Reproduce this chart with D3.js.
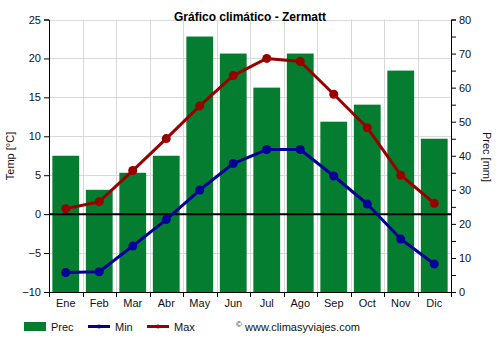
<!DOCTYPE html>
<html>
<head>
<meta charset="utf-8">
<script src="https://cdn.jsdelivr.net/npm/d3@7"></script>
<style>
  html, body { margin: 0; padding: 0; background: #fff; }
  svg { display: block; font-family: "Liberation Sans", Arial, sans-serif; }
</style>
</head>
<body>
<svg id="chart" width="500" height="350"></svg>
<script>
// Monthly climate data for Zermatt
const months = ["Ene", "Feb", "Mar", "Abr", "May", "Jun", "Jul", "Ago", "Sep", "Oct", "Nov", "Dic"];
const precip = [40, 30, 35, 40, 75, 70, 60, 70, 50, 55, 65, 45];
const tempMin = [-7.5, -7.4, -4.1, -0.7, 3.1, 6.5, 8.3, 8.3, 4.9, 1.3, -3.2, -6.4];
const tempMax = [0.7, 1.6, 5.6, 9.7, 13.9, 17.8, 20.0, 19.6, 15.4, 11.1, 5.0, 1.4];
const tempTicks = [-10, -5, 0, 5, 10, 15, 20, 25];
const precTicks = [0, 10, 20, 30, 40, 50, 60, 70, 80];
const precMinorTicks = [5, 15, 25, 35, 45, 55, 65, 75];

const colPrec = "#057d31", colMin = "#000099", colMax = "#990000";
const svg = d3.select("#chart");
const m = { left: 49, right: 451, top: 19.5, bottom: 292 };

const x = d3.scaleBand().domain(months).range([m.left, m.right]).paddingInner(0.2).paddingOuter(0.1);
const xCenter = d => x(d) + x.bandwidth() / 2;
const yT = d3.scaleLinear().domain([-10, 25]).range([m.bottom, m.top]);
const yP = d3.scaleLinear().domain([0, 80]).range([m.bottom, m.top]);
const step = (m.right - m.left) / months.length;

// grid
const grid = svg.append("g");
grid.selectAll("line.h").data(tempTicks).join("line")
  .attr("x1", m.left).attr("x2", m.right)
  .attr("y1", d => Math.round(yT(d)) + 0.5).attr("y2", d => Math.round(yT(d)) + 0.5)
  .attr("stroke", "#d9d9d9").attr("stroke-width", 1);
grid.selectAll("line.v").data(d3.range(1, months.length)).join("line")
  .attr("x1", i => Math.round(m.left + i * step) + 0.5).attr("x2", i => Math.round(m.left + i * step) + 0.5)
  .attr("y1", m.top).attr("y2", m.bottom)
  .attr("stroke", "#d9d9d9").attr("stroke-width", 1);

// precipitation bars
svg.append("g").selectAll("rect").data(months).join("rect")
  .attr("x", (d) => x(d)).attr("width", x.bandwidth())
  .attr("y", (d, i) => yP(precip[i])).attr("height", (d, i) => m.bottom - yP(precip[i]))
  .attr("fill", colPrec);

// zero line
svg.append("line").attr("x1", m.left).attr("x2", m.right)
  .attr("y1", yT(0)).attr("y2", yT(0)).attr("stroke", "#000").attr("stroke-width", 2);

// axes
const fontSize = "11px";
const axL = svg.append("g").attr("transform", `translate(${m.left},0)`)
  .call(d3.axisLeft(yT).tickValues(tempTicks).tickSize(5).tickPadding(3));
const axR = svg.append("g").attr("transform", `translate(${m.right},0)`)
  .call(d3.axisRight(yP).tickValues(precTicks).tickSize(5).tickPadding(3));
svg.append("g").attr("transform", `translate(${m.right},0)`)
  .call(d3.axisRight(yP).tickValues(precMinorTicks).tickSize(5).tickFormat(""))
  .select(".domain").remove();
const axB = svg.append("g").attr("transform", `translate(0,${m.bottom})`)
  .call(d3.axisBottom(x).tickSize(0).tickPadding(7));
// month boundary ticks on the bottom axis
svg.append("g").selectAll("line").data(d3.range(0, months.length + 1)).join("line")
  .attr("x1", i => Math.round(m.left + i * step) + 0.5).attr("x2", i => Math.round(m.left + i * step) + 0.5)
  .attr("y1", m.bottom).attr("y2", m.bottom + 5).attr("stroke", "#000");

[axL, axR, axB].forEach(a => {
  a.selectAll("text").attr("font-size", fontSize).attr("fill", "#111")
    .attr("font-family", "'Liberation Sans', Arial, sans-serif");
  a.selectAll(".domain, line").attr("stroke", "#000");
});
axB.select(".domain").attr("d", `M${m.left},0.5H${m.right}`);

// temperature lines
const line = d3.line().x((d, i) => xCenter(months[i])).y(d => yT(d));
[[tempMin, colMin], [tempMax, colMax]].forEach(([vals, col]) => {
  svg.append("path").datum(vals).attr("d", line)
    .attr("fill", "none").attr("stroke", col).attr("stroke-width", 3).attr("stroke-linejoin", "round");
  svg.append("g").selectAll("circle").data(vals).join("circle")
    .attr("cx", (d, i) => xCenter(months[i])).attr("cy", d => yT(d)).attr("r", 4.5).attr("fill", col);
});

// titles
svg.append("text").attr("x", 250).attr("y", 21).attr("text-anchor", "middle")
  .attr("font-size", "12px").attr("font-weight", "bold").attr("fill", "#000")
  .text("Gráfico climático - Zermatt");
svg.append("text").attr("transform", "translate(14,156) rotate(-90)").attr("text-anchor", "middle")
  .attr("font-size", "11px").attr("fill", "#111").text("Temp [°C]");
svg.append("text").attr("transform", "translate(483,157) rotate(90)").attr("text-anchor", "middle")
  .attr("font-size", "11px").attr("fill", "#111").text("Prec [mm]");

// legend
const lg = svg.append("g").attr("font-size", "11px").attr("fill", "#111");
lg.append("rect").attr("x", 24).attr("y", 322).attr("width", 22).attr("height", 9).attr("fill", colPrec);
lg.append("text").attr("x", 51).attr("y", 330.5).text("Prec");
[[88, colMin, "Min"], [147, colMax, "Max"]].forEach(([lx, col, label]) => {
  lg.append("line").attr("x1", lx).attr("x2", lx + 22).attr("y1", 326.5).attr("y2", 326.5)
    .attr("stroke", col).attr("stroke-width", 3);
  lg.append("circle").attr("cx", lx + 11).attr("cy", 326.5).attr("r", 2).attr("fill", col);
  lg.append("text").attr("x", lx + 27).attr("y", 330.5).text(label);
});
lg.append("text").attr("x", 236).attr("y", 327).attr("font-size", "8px").text("©");
lg.append("text").attr("x", 245).attr("y", 330.5).text("www.climasyviajes.com");
</script>
</body>
</html>
